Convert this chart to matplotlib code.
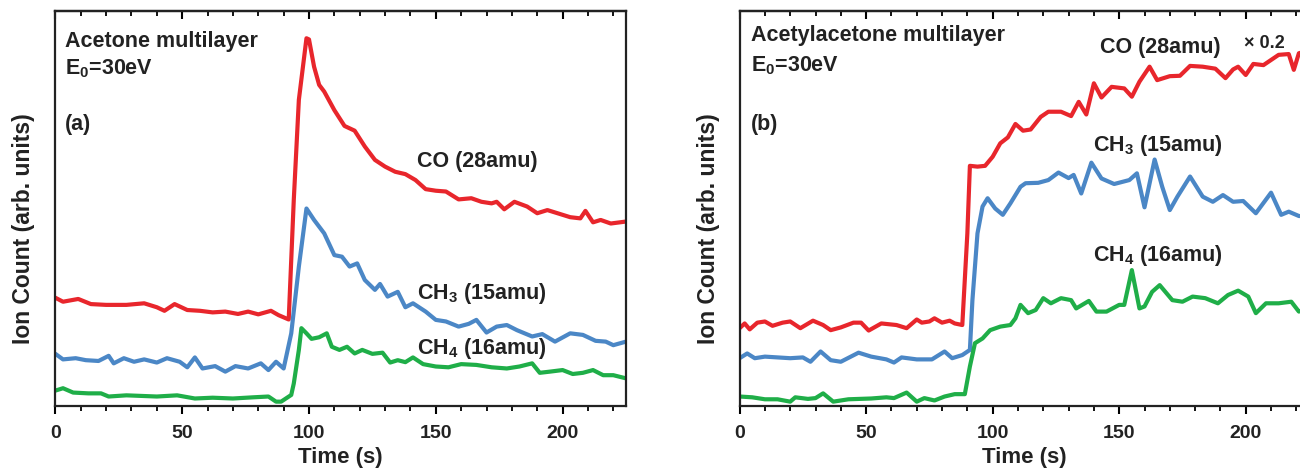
import matplotlib
matplotlib.use("Agg")
import matplotlib.pyplot as plt
from matplotlib.ticker import MultipleLocator

plt.rcParams['font.family'] = ['Liberation Sans', 'DejaVu Sans']
plt.rcParams['font.weight'] = 'bold'
plt.rcParams['mathtext.fontset'] = 'custom'
plt.rcParams['mathtext.rm'] = 'Liberation Sans:bold'
plt.rcParams['mathtext.it'] = 'Liberation Sans:bold'
plt.rcParams['mathtext.bf'] = 'Liberation Sans:bold'

# ---------------- Panel (a): Acetone multilayer ----------------
a_co_t = [0, 3, 9, 14, 20, 28, 35, 40, 43, 47, 52, 57, 62, 67, 72, 76, 80, 85, 88, 92,
          94, 96, 99, 100, 102, 104, 106, 110, 114, 118, 122, 126, 130, 134, 138, 142,
          146, 150, 154, 159, 164, 168, 172, 174, 177, 181, 186, 190, 194, 198, 203,
          207, 209, 212, 215, 219, 225]
a_co_y = [27.4, 26.4, 27.1, 25.8, 25.6, 25.6, 26.0, 25.0, 24.1, 25.8, 24.3, 24.1, 23.7,
          23.9, 23.3, 23.9, 23.2, 24.1, 23.0, 21.9,
          52.2, 77.5, 93.1, 92.8, 85.9, 81.3, 79.6, 74.9, 70.9, 69.7, 65.7, 62.3, 60.6,
          59.3, 58.7, 57.2, 54.9, 54.5, 54.3, 52.3, 52.6, 51.7, 51.3, 51.7, 49.8, 51.7,
          50.5, 48.8, 49.6, 48.8, 47.8, 47.5, 49.4, 46.5, 47.1, 46.2, 46.7]

a_ch3_t = [0, 3, 8, 12, 17, 21, 23, 27, 31, 35, 40, 44, 49, 52, 55, 58, 63, 67, 71, 76,
           81, 84, 87, 90, 93, 96, 99, 102, 106, 110, 113, 116, 119, 122, 126, 128, 131,
           135, 138, 141, 146, 150, 154, 159, 163, 166, 170, 174, 178, 182, 188, 192,
           197, 203, 208, 213, 217, 220, 225]
a_ch3_y = [13.2, 11.8, 12.1, 11.6, 11.4, 12.7, 10.8, 12.1, 11.2, 11.8, 11.0, 12.1, 11.2,
           9.8, 12.3, 9.5, 10.1, 8.7, 10.1, 9.5, 10.8, 9.1, 11.2, 9.5, 18.4, 35.3, 50.0,
           47.1, 43.7, 38.2, 37.8, 35.3, 36.1, 31.9, 29.4, 30.9, 27.7, 28.9, 25.0, 26.0,
           23.9, 21.8, 21.4, 20.1, 20.8, 21.8, 18.6, 20.1, 20.5, 19.2, 17.6, 18.2, 16.3,
           18.4, 18.0, 16.5, 16.3, 15.4, 16.3]

a_ch4_t = [0, 3, 7, 13, 18, 21, 28, 40, 48, 55, 62, 70, 78, 84, 87, 89, 93, 94, 96, 97,
           99, 101, 104, 107, 109, 112, 115, 118, 121, 125, 129, 132, 135, 138, 141, 145,
           150, 155, 160, 166, 172, 178, 183, 188, 191, 195, 200, 204, 208, 212, 216,
           220, 225]
a_ch4_y = [3.9, 4.5, 3.4, 3.2, 3.2, 2.4, 2.7, 2.4, 2.7, 1.9, 2.1, 1.9, 2.2, 2.4, 1.1, 1.1,
           2.8, 5.7, 14.2, 19.7, 18.4, 17.0, 17.4, 18.4, 15.0, 14.2, 15.0, 13.3, 14.2,
           13.2, 13.5, 11.0, 11.6, 11.1, 12.3, 10.6, 10.0, 9.8, 10.6, 10.4, 9.8, 9.5,
           10.0, 10.8, 8.4, 8.7, 9.1, 8.1, 8.4, 9.1, 7.8, 7.8, 7.0]

# ---------------- Panel (b): Acetylacetone multilayer ----------------
b_co_t = [0, 2, 4, 7, 10, 13, 17, 20, 24, 29, 33, 36, 40, 45, 48, 51, 56, 62, 66, 70,
          72, 75, 77, 80, 83, 85, 88, 90, 91, 94, 97, 100, 103, 106, 109, 112, 115, 119,
          122, 127, 131, 134, 137, 140, 143, 147, 152, 155, 158, 162, 165, 170, 174,
          178, 183, 188, 192, 195, 197, 200, 203, 207, 213, 217, 219, 221, 225]
b_co_y = [19.7, 20.9, 19.4, 21.1, 21.4, 20.3, 21.1, 21.4, 19.7, 21.6, 20.5, 19.2, 19.9,
          21.1, 21.1, 19.1, 20.9, 20.5, 19.7, 21.9, 21.1, 21.4, 22.2, 21.1, 21.6, 20.9,
          20.5, 43.7, 60.8, 60.6, 60.8, 63.1, 66.5, 68.0, 71.4, 69.7, 70.0, 73.2, 74.5,
          74.5, 73.4, 77.0, 73.8, 81.7, 78.1, 80.8, 80.4, 78.3, 82.1, 85.9, 82.5, 83.5,
          83.6, 86.1, 85.9, 85.4, 83.0, 85.2, 85.9, 83.8, 86.6, 86.3, 88.9, 89.1, 85.1,
          89.3, 90.0]

b_ch3_t = [0, 3, 6, 10, 15, 20, 25, 28, 32, 36, 40, 47, 52, 58, 61, 64, 70, 76, 81, 84,
           88, 91, 92, 94, 96, 98, 101, 104, 107, 111, 113, 118, 122, 126, 130, 132, 135,
           139, 143, 148, 154, 157, 160, 164, 167, 170, 173, 178, 183, 187, 191, 195,
           199, 204, 210, 214, 217, 221, 225]
b_ch3_y = [12.1, 13.3, 12.1, 12.5, 12.3, 12.1, 12.3, 11.2, 13.8, 11.6, 11.2, 13.5, 12.5,
           11.8, 11.0, 12.3, 11.8, 11.8, 13.8, 12.1, 12.9, 14.2, 26.8, 43.7, 50.5, 52.6,
           50.0, 48.4, 51.3, 55.5, 56.4, 56.5, 57.2, 59.1, 57.7, 58.5, 53.8, 61.6, 57.6,
           56.2, 57.2, 58.9, 50.3, 62.4, 55.5, 49.6, 53.0, 58.1, 53.0, 51.7, 53.4, 51.7,
           51.9, 48.8, 54.0, 48.4, 49.2, 48.1, 48.0]

b_ch4_t = [0, 5, 10, 15, 20, 22, 27, 30, 33, 37, 43, 52, 58, 61, 66, 70, 73, 77, 81, 85,
           89, 91, 93, 96, 99, 103, 107, 109, 111, 114, 117, 120, 123, 127, 131, 133,
           138, 141, 145, 150, 152, 155, 158, 160, 163, 166, 171, 175, 179, 184, 189,
           193, 197, 201, 204, 208, 213, 218, 221, 225]
b_ch4_y = [2.4, 2.2, 1.7, 1.7, 1.1, 2.2, 1.8, 2.0, 3.2, 1.1, 1.7, 1.9, 2.2, 2.0, 3.4,
           1.1, 2.0, 1.4, 2.4, 3.0, 3.0, 10.0, 15.9, 17.1, 19.2, 20.1, 20.5, 22.2, 25.6,
           23.5, 24.3, 27.3, 26.0, 27.3, 26.8, 24.7, 26.6, 23.9, 23.9, 25.6, 25.6, 34.4,
           24.7, 25.2, 28.9, 30.6, 26.8, 26.4, 27.7, 27.3, 26.0, 28.1, 29.2, 27.7, 23.5,
           26.0, 26.0, 26.4, 23.9, 25.0]

x_ticks = [0, 50, 100, 150, 200]
x_ticklabels = ['0', '50', '100', '150', '200']

RED = '#e8262c'
BLUE = '#4b87c6'
GREEN = '#1fae48'

W, H = 1300, 473
fig = plt.figure(figsize=(W / 100, H / 100), dpi=100)

def px_axes(left, right, top, bottom):
    return fig.add_axes([left / W, 1 - bottom / H, (right - left) / W, (bottom - top) / H])

ax_a = px_axes(55.4, 626, 11, 406)
ax_b = px_axes(739.6, 1309, 11, 406)

for ax in (ax_a, ax_b):
    ax.set_xlim(0, 225)
    ax.set_ylim(0, 100)
    ax.set_yticks([])
    ax.set_xticks(x_ticks)
    ax.set_xticklabels(x_ticklabels)
    ax.xaxis.set_minor_locator(MultipleLocator(10))
    ax.tick_params(axis='x', which='major', direction='out', length=6, width=1.5,
                   labelsize=14, pad=8, labelcolor='#222222')
    ax.tick_params(axis='x', which='minor', direction='out', length=3.5, width=1.3)
    for s in ax.spines.values():
        s.set_linewidth(1.6)
        s.set_color('#222222')
    sec = ax.secondary_xaxis('top')
    sec.set_xticks(x_ticks)
    sec.xaxis.set_minor_locator(MultipleLocator(10))
    sec.tick_params(axis='x', which='major', direction='in', length=6, width=1.5,
                    labeltop=False)
    sec.tick_params(axis='x', which='minor', direction='in', length=3.5, width=1.3)
    sec.spines['top'].set_linewidth(1.6)
    ax.set_xlabel('Time (s)', fontsize=16, fontweight='bold', labelpad=3, color='#222222')
    ax.set_ylabel('Ion Count (arb. units)', fontsize=16.5, fontweight='bold',
                  color='#222222')

ax_a.yaxis.set_label_coords(-20.0 / (626 - 55.4), 0.45)
ax_b.yaxis.set_label_coords(-20.0 / (1309 - 739.6), 0.45)

lw = 3.0
kw = dict(lw=lw, solid_joinstyle='round', solid_capstyle='round')
ax_a.plot(a_co_t, a_co_y, color=RED, **kw)
ax_a.plot(a_ch3_t, a_ch3_y, color=BLUE, **kw)
ax_a.plot(a_ch4_t, a_ch4_y, color=GREEN, **kw)

ax_b.plot(b_co_t, b_co_y, color=RED, **kw)
ax_b.plot(b_ch3_t, b_ch3_y, color=BLUE, **kw)
ax_b.plot(b_ch4_t, b_ch4_y, color=GREEN, **kw)

tc = '#222222'
fs = 15.5
def txt(x_px, y_px, s, size=fs, ha='left'):
    fig.text(x_px / W, 1 - y_px / H, s, fontsize=size, fontweight='bold', color=tc,
             ha=ha, va='center')

# panel a texts
txt(65, 41, 'Acetone multilayer')
txt(65, 69, r'E$_{\mathregular{0}}$=30eV')
txt(65, 124, '(a)')
txt(417, 162, 'CO (28amu)')
txt(417, 293, r'CH$_{\mathregular{3}}$ (15amu)')
txt(417, 348, r'CH$_{\mathregular{4}}$ (16amu)')

# panel b texts
txt(751, 36, 'Acetylacetone multilayer')
txt(751, 66, r'E$_{\mathregular{0}}$=30eV')
txt(751, 124, '(b)')
txt(1100, 48, 'CO (28amu)')
txt(1244, 44, '\u00d7 0.2', size=13)
txt(1093, 146, r'CH$_{\mathregular{3}}$ (15amu)')
txt(1093, 256, r'CH$_{\mathregular{4}}$ (16amu)')

fig.savefig('out.png', dpi=100)
